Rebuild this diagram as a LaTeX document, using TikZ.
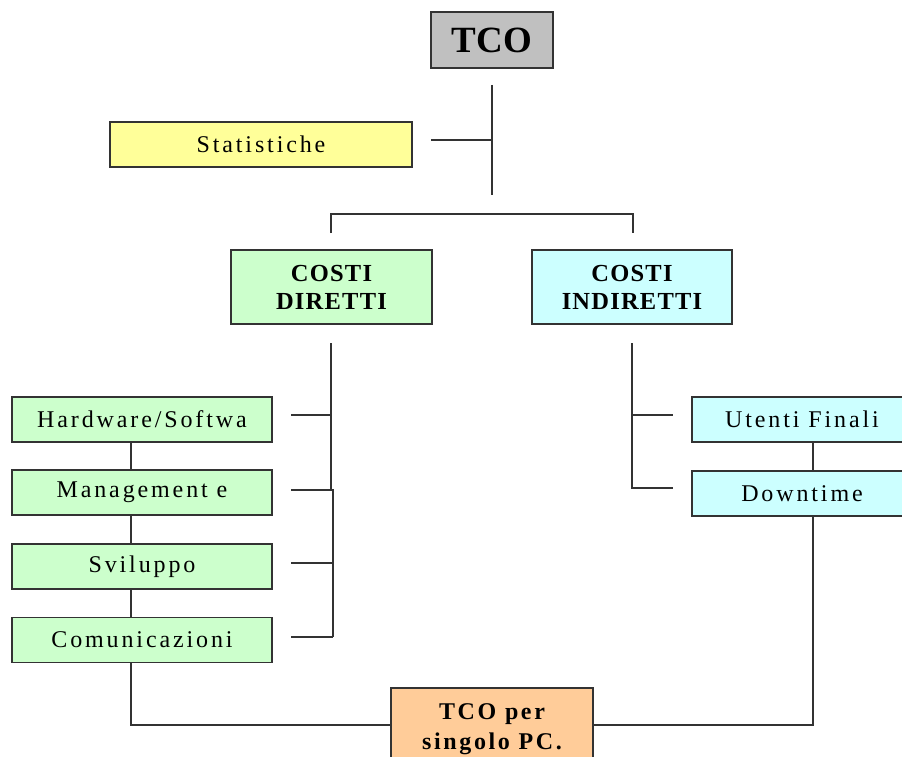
\documentclass[tikz,border=0pt]{standalone}
\usepackage{fontspec}
\setmainfont{Liberation Serif}
\newfontfamily\rfont[LetterSpace=12]{Liberation Serif}
\newfontfamily\hfont[LetterSpace=5]{Liberation Serif}
\newfontfamily\ofont[LetterSpace=11]{Liberation Serif}
\definecolor{tcogray}{HTML}{C0C0C0}
\definecolor{statyel}{HTML}{FFFF99}
\definecolor{dirgreen}{HTML}{CCFFCC}
\definecolor{indcyan}{HTML}{CCFFFF}
\definecolor{pcorange}{HTML}{FFCC99}
\definecolor{edge}{HTML}{333333}
\tikzset{
  box/.style={draw=edge, line width=1.5pt, rectangle, inner sep=0pt, align=center},
  smallbox/.style={box, minimum height=45pt, font=\rfont\fontsize{24}{28}\selectfont},
  headbox/.style={box, minimum height=74pt, font=\hfont\bfseries\fontsize{24.5}{28}\selectfont},
  conn/.style={draw=edge, line width=1.5pt}
}
\begin{document}
\begin{tikzpicture}[x=1pt,y=-1pt]
\useasboundingbox (0,0) rectangle (902,757);
\fill[white] (0,0) rectangle (902,757);

% nodes
\node[box, fill=tcogray, minimum width=122pt, minimum height=56pt, font=\bfseries\fontsize{37}{40}\selectfont] (tco) at (492,40) {TCO};
\node[smallbox, fill=statyel, minimum width=302pt] (stat) at (261,144.5) {Statistiche};
\node[headbox, fill=dirgreen, minimum width=201pt] (dir) at (331.5,287) {COSTI\\DIRETTI};
\node[headbox, fill=indcyan, minimum width=200pt] (ind) at (632,287) {COSTI\\INDIRETTI};
\node[smallbox, fill=dirgreen, minimum width=260pt] (hw) at (142,419.5) {Hardware/Softwa};
\node[smallbox, fill=dirgreen, minimum width=260pt] (mg) at (142,492.5) {Management e};
\node[smallbox, fill=dirgreen, minimum width=260pt] (sv) at (142,566.5) {Sviluppo};
\node[smallbox, fill=dirgreen, minimum width=260pt] (cm) at (142,640) {Comunicazioni};
\node[smallbox, fill=indcyan, minimum width=220pt] (ut) at (802,419.5) {Utenti Finali};
\node[smallbox, fill=indcyan, minimum width=220pt] (dt) at (802,493.5) {Downtime};
\node[box, fill=pcorange, minimum width=202pt, minimum height=82pt, font=\ofont\bfseries\fontsize{24}{30}\selectfont] (pc) at (492,729) {TCO per\\singolo PC.};

% coordinates
\coordinate (sp1) at (492,85);
\coordinate (sp2) at (492,195);
\coordinate (st) at (431,140);
\coordinate (bl) at (331,233);
\coordinate (br) at (633,233);
\coordinate (ls1) at (331,343);
\coordinate (ls2) at (331,490);
\coordinate (ls3) at (333,490);
\coordinate (ls4) at (333,637);
\coordinate (t1) at (291,415);
\coordinate (t2) at (291,490);
\coordinate (t3) at (291,563);
\coordinate (t4) at (291,637);
\coordinate (rs1) at (632,343);
\coordinate (rs2) at (632,488);
\coordinate (r1) at (673,415);
\coordinate (r2) at (673,488);

% top spine
\draw[conn] (sp1) -- (sp2);
\draw[conn] (st) -- (st -| sp1);
\draw[conn] (bl) -- ++(0,-19) -| (br);

% left spine
\draw[conn] (ls1) -- (ls2) -- (ls3) -- (ls4);
\draw[conn] (t1) -- (t1 -| ls1);
\draw[conn] (t2) -- (ls3);
\draw[conn] (t3) -- (t3 -| ls3);
\draw[conn] (t4) -- (ls4);

% left chain
\draw[conn] ([xshift=-11pt]hw.south) -- ([xshift=-11pt]mg.north);
\draw[conn] ([xshift=-11pt]mg.south) -- ([xshift=-11pt]sv.north);
\draw[conn] ([xshift=-11pt]sv.south) -- ([xshift=-11pt]cm.north);

% right spine
\draw[conn] (rs1) -- (rs2) -- (r2);
\draw[conn] (r1 -| rs1) -- (r1);
\draw[conn] ([xshift=11pt]ut.south) -- ([xshift=11pt]dt.north);

% bottom
\draw[conn] ([xshift=-11pt]cm.south) |- ([yshift=4pt]pc.west);
\draw[conn] ([xshift=11pt]dt.south) |- ([yshift=4pt]pc.east);
\end{tikzpicture}
\end{document}
